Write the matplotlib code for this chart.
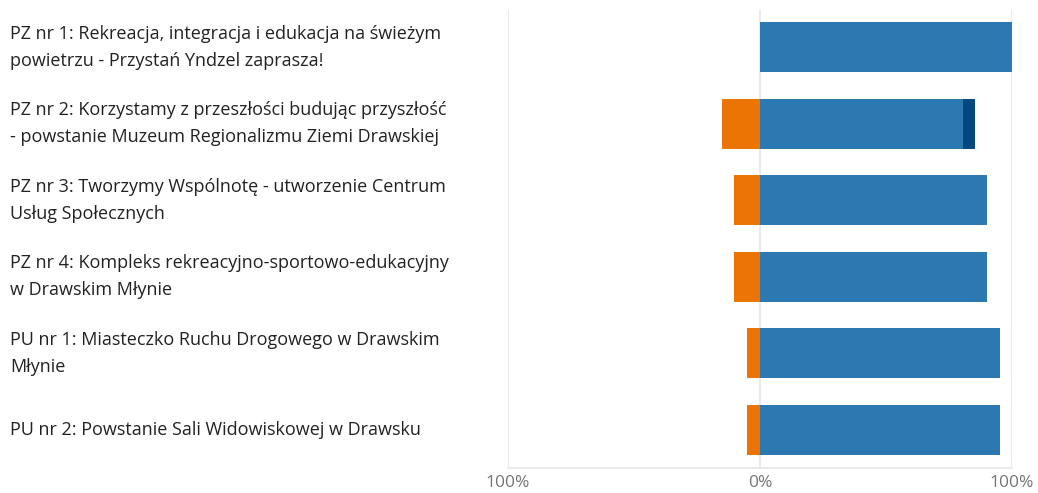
import matplotlib
matplotlib.use("Agg")
import matplotlib.pyplot as plt
from matplotlib.transforms import blended_transform_factory

categories = [
    "PZ nr 1: Rekreacja, integracja i edukacja na świeżym\npowietrzu - Przystań Yndzel zaprasza!",
    "PZ nr 2: Korzystamy z przeszłości budując przyszłość\n- powstanie Muzeum Regionalizmu Ziemi Drawskiej",
    "PZ nr 3: Tworzymy Wspólnotę - utworzenie Centrum\nUsług Społecznych",
    "PZ nr 4: Kompleks rekreacyjno-sportowo-edukacyjny\nw Drawskim Młynie",
    "PU nr 1: Miasteczko Ruchu Drogowego w Drawskim\nMłynie",
    "PU nr 2: Powstanie Sali Widowiskowej w Drawsku",
]
negative = [0.0, 15.2, 10.2, 10.2, 5.3, 5.3]
positive = [100.0, 80.4, 90.2, 90.2, 95.4, 95.4]
strong_positive = [0.0, 4.8, 0.0, 0.0, 0.0, 0.0]
tick_values = [-100, 0, 100]
tick_labels = ["100%", "0%", "100%"]

plt.rcParams['font.family'] = ['Open Sans', 'DejaVu Sans']

fig = plt.figure(figsize=(10.38, 4.93), dpi=100)
ax = fig.add_axes([508/1038, 1 - 468/493, 504/1038, 459/493])

ypos = list(range(len(categories)))
h = 0.66
blue = "#2b79b0"
orange = "#ec7405"
dark = "#03487f"
ax.barh(ypos, [-v for v in negative], height=h, color=orange, zorder=3)
ax.barh(ypos, positive, height=h, color=blue, zorder=3)
ax.barh(ypos, strong_positive, left=positive, height=h, color=dark, zorder=3)

ax.set_xlim(-100, 100)
ax.set_ylim(len(categories) - 0.5, -0.5)
ax.set_xticks(tick_values)
ax.set_xticklabels(tick_labels, color="#757575", fontsize=12.5)
ax.set_yticks([])
ax.tick_params(axis='x', length=0, pad=5)
for v in tick_values:
    ax.axvline(v, color="#e6e6e6", lw=1.2, zorder=1)
for s in ["top", "right", "left"]:
    ax.spines[s].set_visible(False)
ax.spines["bottom"].set_color("#e6e6e6")
ax.spines["bottom"].set_linewidth(1.2)

tr = blended_transform_factory(fig.transFigure, ax.transData)
for i, c in enumerate(categories):
    fig.text(10/1038, i, c, transform=tr, ha="left", va="center",
             fontsize=13, color="#222222", linespacing=1.62)

fig.savefig("out.png", dpi=100)
